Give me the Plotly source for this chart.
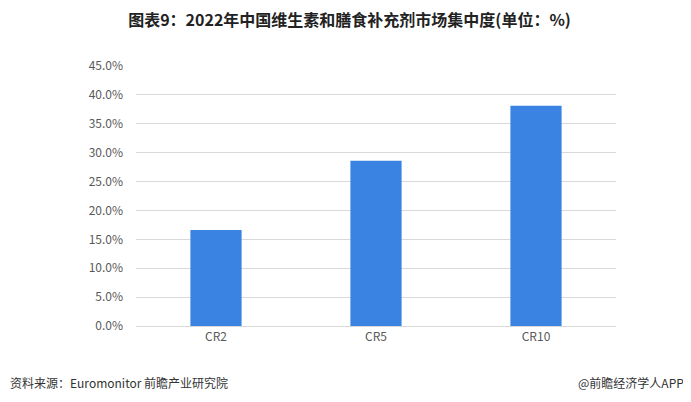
import plotly.graph_objects as go

categories = ["CR2", "CR5", "CR10"]
values = [16.6, 28.6, 38.1]
y_ticks = [0, 5, 10, 15, 20, 25, 30, 35, 40, 45]

fig = go.Figure()
fig.add_trace(go.Bar(
    x=categories, y=values,
    marker=dict(color="#3a83e3", line=dict(width=0)),
    width=0.32,
))

font_family = "Microsoft YaHei, Noto Sans CJK SC, sans-serif"

# The page has an 8px body margin; size the figure to fill the remaining window.
W, H = 683, 394
ML, MR, MT, MB = 128, 75, 58, 76
plot_h = H - MT - MB

fig.update_layout(
    width=W, height=H,
    margin=dict(l=ML, r=MR, t=MT, b=MB),
    plot_bgcolor="white", paper_bgcolor="white",
    showlegend=False,
    font=dict(family=font_family, size=12, color="#595959"),
    title=dict(
        text="<b>图表9：2022年中国维生素和膳食补充剂市场集中度(单位：%)</b>",
        x=0.5, xanchor="center", y=1 - 12 / H, yanchor="middle",
        font=dict(size=16, color="#222222", family=font_family),
    ),
    xaxis=dict(
        showgrid=False, showline=True, linecolor="#d9d9d9", linewidth=1,
        ticks="", tickfont=dict(size=12, color="#595959"),
    ),
    yaxis=dict(
        range=[0, 45], tickvals=y_ticks,
        ticktext=[f"{v:.1f}%" for v in y_ticks],
        showgrid=True, gridcolor="#d9d9d9", gridwidth=1,
        zeroline=False, showline=False, ticks="",
        ticklabelstandoff=12,
        tickfont=dict(size=12, color="#595959"),
    ),
    annotations=[
        dict(text="资料来源：Euromonitor 前瞻产业研究院", x=0, xref="paper", xanchor="left",
             xshift=-ML, y=-(374 - (H - MB)) / plot_h, yref="paper", yanchor="middle",
             showarrow=False, font=dict(size=12, color="#333333")),
        dict(text="@前瞻经济学人APP", x=1, xref="paper", xanchor="right",
             xshift=MR - 5, y=-(374 - (H - MB)) / plot_h, yref="paper", yanchor="middle",
             showarrow=False, font=dict(size=12, color="#333333")),
    ],
)

fig.write_html("out.html")
